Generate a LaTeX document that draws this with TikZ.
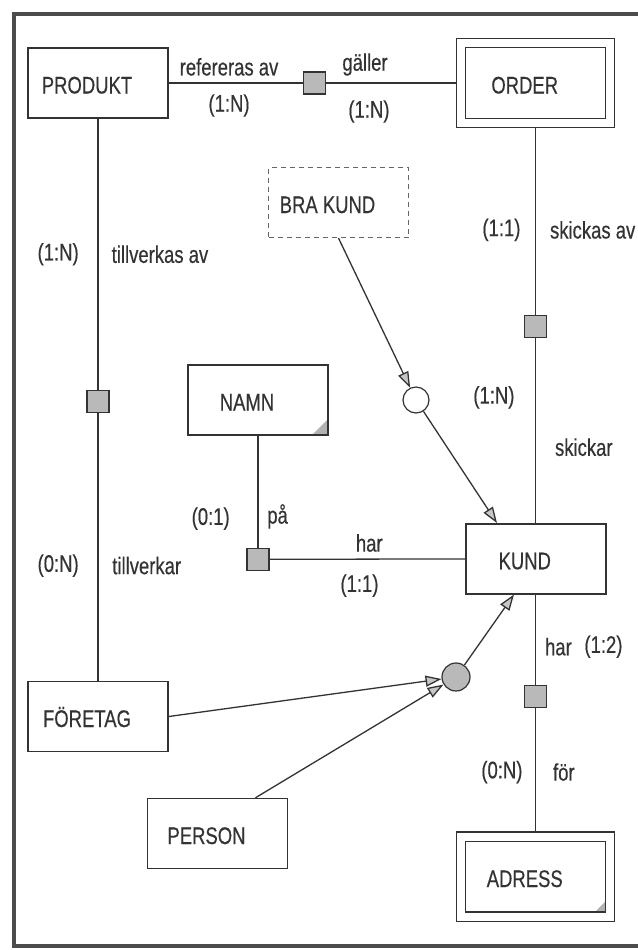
\documentclass[tikz,border=0pt]{standalone}
\usepackage{fontspec}
\setmainfont{Liberation Sans}[FakeStretch=0.77, FakeBold=0.4]
\usepackage{xcolor}
\usepackage{tikz}
\usetikzlibrary{positioning,arrows.meta,calc}

\begin{document}
\begin{tikzpicture}[
    x=0.5pt, y=-0.5pt,
    font=\fontsize{12pt}{14pt}\selectfont,
    text=black!80,
    ent_box/.style={draw=black!80, line width=0.75pt, minimum width=70pt, minimum height=35pt, inner sep=0pt,
        text height=10.5pt, text depth=0pt, execute at end node={\hspace{11pt}}},
    weak_box/.style={ent_box, double, double distance=4pt, line width=0.55pt, minimum width=74.5pt, minimum height=40pt, outer sep=2.5pt},
    cat_box/.style={ent_box, draw=black!60, line width=0.6pt, dash pattern=on 2.5pt off 2pt},
    attr_corner/.style={path picture={\fill[gray!60] ([xshift=-#1]path picture bounding box.south east) -- (path picture bounding box.south east) -- ([yshift=#1]path picture bounding box.south east) -- cycle;}},
    rel_box/.style={draw=black!80, line width=0.6pt, fill=gray!55, minimum size=11pt, inner sep=0pt},
    sub_circle/.style={circle, draw=black!80, line width=0.6pt, minimum size=13pt, inner sep=0pt},
    link/.style={draw=black!80, line width=0.65pt},
    isa_arrow/.style={link, -{Triangle[length=8pt, width=5.5pt, fill=gray!45]}},
    frame/.style={draw=black!70, line width=2.2pt}
]

\useasboundingbox (0,0) rectangle (638,950);
\draw [frame] (638,14) -- (14,14) -- (14,946) -- (638,946);

\node (produkt) [ent_box] at (98,83) {PRODUKT};
\node (order)   [weak_box, right=143.75pt of produkt] {ORDER};
\node (kund)    [ent_box, below=197.5pt of order] {KUND};
\node (adress)  [weak_box, attr_corner=10pt, below=118.5pt of kund] {ADRESS};
\node (foretag) [ent_box, below=281pt of produkt] {FÖRETAG};
\node (person)  [ent_box] at (217.5,833.5) {PERSON};
\node (namn)    [ent_box, attr_corner=8pt] at (258,400) {NAMN};
\node (brakund) [cat_box] at (338.5,202.5) {BRA KUND};

\node (refer)   [rel_box, right=67pt of produkt] {};
\node (tillv)   [rel_box, below=135.5pt of produkt] {};
\node (skick)   [rel_box, below=93.5pt of order] {};
\node (namnrel) [rel_box, below=56pt of namn] {};
\node (adrrel)  [rel_box, below=45pt of kund] {};

\node (sub_bra) [sub_circle] at (416,400) {};
\node (union)   [sub_circle, fill=gray!55, minimum size=14pt] at (456,677) {};

\draw [link] (produkt) -- node[above, pos=0.45] (ref_lbl) {refereras av} node[below=2pt, pos=0.45] (ref_card) {(1:N)} (refer);
\draw [link] (refer) -- node[above, pos=0.3] (gal_lbl) {gäller} node[below=5pt, pos=0.33] (gal_card) {(1:N)} (order);

\draw [link] (produkt) -- node[pos=0.5, left=6pt] (tva_card) {(1:N)} node[pos=0.5, right=3.2pt] (tva_lbl) {tillverkas av} (tillv);
\draw [link] (tillv) -- node[pos=0.57, left=6pt] (tvr_card) {(0:N)} node[pos=0.57, right=3.5pt] (tvr_lbl) {tillverkar} (foretag);

\draw [link] (order) -- node[pos=0.545, left=4pt] (ska_card) {(1:1)} node[pos=0.545, right=3.5pt] (ska_lbl) {skickas av} (skick);
\draw [link] (skick) -- node[pos=0.32, left=7pt] (skr_card) {(1:N)} node[pos=0.59, right=6pt] (skr_lbl) {skickar} (kund);

\draw [link] (namn) -- node[pos=0.74, left=10.5pt] (pa_card) {(0:1)} node[pos=0.72, right=1pt] (pa_lbl) {på} (namnrel);
\draw [link] (namnrel) -- node[pos=0.51, above=0pt] (harn_lbl) {har} node[pos=0.46, below=4pt] (harn_card) {(1:1)} (kund);

\draw [link] (kund) -- node[pos=0.58, right=1pt] (hara_lbl) {har} node[pos=0.58, right=20.7pt] (hara_card) {(1:2)} (adrrel);
\draw [link] (adrrel) -- node[pos=0.52, left=3pt] (for_card) {(0:N)} node[pos=0.52, right=5pt] (for_lbl) {för} (adress);

\draw [isa_arrow] (brakund.south) -- (sub_bra);
\draw [isa_arrow] (sub_bra) -- ([xshift=16pt]kund.north west);
\draw [isa_arrow] (foretag.east) -- (union);
\draw [isa_arrow] ([xshift=19pt]person.north) -- (union);
\draw [isa_arrow] (union) -- ([xshift=24.5pt]kund.south west);

\end{tikzpicture}
\end{document}
